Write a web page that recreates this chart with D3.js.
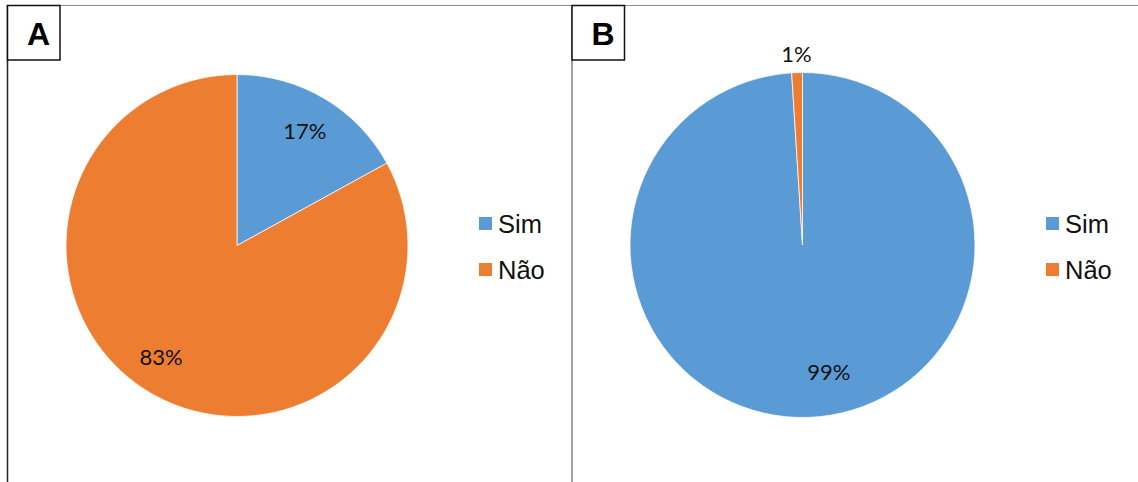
<!DOCTYPE html>
<html>
<head>
<meta charset="utf-8">
<script src="https://cdn.jsdelivr.net/npm/d3@7"></script>
<style>
  html, body { margin: 0; padding: 0; background: #fff; }
  svg { display: block; }
</style>
</head>
<body>
<svg id="chart" width="1138" height="482"></svg>
<script>
// Survey answers, in percent
const categories = ["Sim", "Não"];
const panelTitles = ["A", "B"];
const valuesA = [17, 83];
const valuesB = [99, 1];
const colors = ["#5B9BD5", "#ED7D31"];

const svg = d3.select("#chart");

// Panel layout
const panels = [
  { title: panelTitles[0], values: valuesA, cx: 237, cy: 245.5, r: 171, box: [7.5, 5.5], legendX: 479,
    labelNudge: [[0, 0], [-8, -4]] },
  { title: panelTitles[1], values: valuesB, cx: 802.5, cy: 245, r: 172.5, box: [572, 5.5], legendX: 1046,
    labelNudge: [[22, -8], [0, 1]] }
];

// Frame lines
svg.append("line").attr("x1", 60).attr("x2", 1138).attr("y1", 5.5).attr("y2", 5.5)
  .attr("stroke", "#8c8c8c").attr("stroke-width", 1.2);
svg.append("line").attr("x1", 7.5).attr("x2", 7.5).attr("y1", 5).attr("y2", 482)
  .attr("stroke", "#222").attr("stroke-width", 1.5);
svg.append("line").attr("x1", 572).attr("x2", 572).attr("y1", 5).attr("y2", 482)
  .attr("stroke", "#808080").attr("stroke-width", 1.5);

const pie = d3.pie().sort(null).value(d => d);

panels.forEach(p => {
  const g = svg.append("g").attr("transform", `translate(${p.cx},${p.cy})`);
  const arcs = pie(p.values);
  const arc = d3.arc().innerRadius(0).outerRadius(p.r);
  const labelArc = d3.arc().innerRadius(p.r * 0.78).outerRadius(p.r * 0.78);
  const outerArc = d3.arc().innerRadius(p.r + 20).outerRadius(p.r + 20);

  g.selectAll("path.slice")
    .data(arcs)
    .join("path")
    .attr("class", "slice")
    .attr("d", arc)
    .attr("fill", (d, i) => colors[i])
    .attr("stroke", "#fff")
    .attr("stroke-width", 0.75);

  // Percentage labels: inside large slices, just outside tiny ones
  g.selectAll("text.pct")
    .data(arcs)
    .join("text")
    .attr("class", "pct")
    .each(function (d, i) {
      const small = (d.endAngle - d.startAngle) < 0.2;
      const c = small ? outerArc.centroid(d) : labelArc.centroid(d);
      const n = p.labelNudge[i];
      d3.select(this)
        .attr("x", c[0] + n[0])
        .attr("y", c[1] + n[1]);
    })
    .attr("text-anchor", "middle")
    .attr("dominant-baseline", "central")
    .attr("font-family", "Lato, 'Open Sans', sans-serif")
    .attr("font-size", 22)
    .attr("fill", "#111")
    .text(d => d.data + "%");

  // Panel letter box
  svg.append("rect")
    .attr("x", p.box[0]).attr("y", p.box[1])
    .attr("width", 52.5).attr("height", 54.5)
    .attr("fill", "#fff").attr("stroke", "#111").attr("stroke-width", 1.5);
  svg.append("text")
    .attr("x", p.box[0] + 31).attr("y", 45)
    .attr("text-anchor", "middle")
    .attr("font-family", "'Liberation Sans', Arial, sans-serif")
    .attr("font-weight", "bold")
    .attr("font-size", 32)
    .attr("fill", "#000")
    .text(p.title);

  // Legend
  const y = d3.scalePoint().domain(categories).range([223.5, 269.5]);
  const lg = svg.append("g");
  lg.selectAll("rect")
    .data(categories)
    .join("rect")
    .attr("x", p.legendX)
    .attr("y", d => y(d) - 6.5)
    .attr("width", 13).attr("height", 13)
    .attr("fill", (d, i) => colors[i]);
  lg.selectAll("text")
    .data(categories)
    .join("text")
    .attr("x", p.legendX + 19)
    .attr("y", d => y(d) + 9)
    .attr("font-family", "'Liberation Sans', Arial, sans-serif")
    .attr("font-size", 25.5)
    .attr("fill", "#111")
    .text(d => d);
});
</script>
</body>
</html>
